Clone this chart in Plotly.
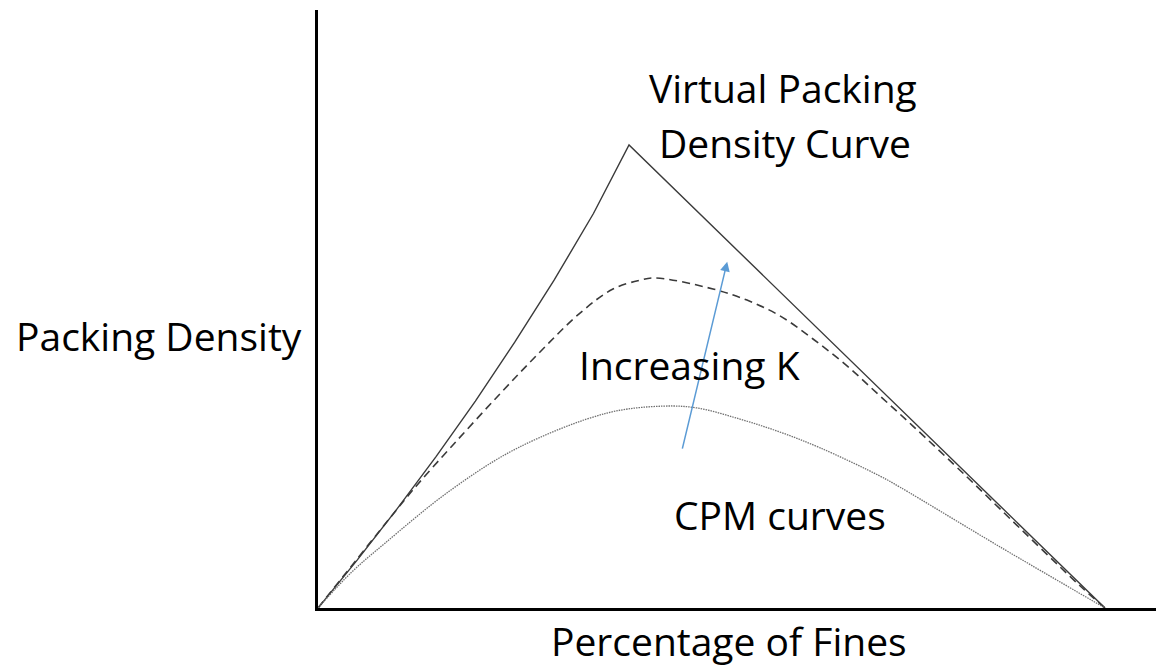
import plotly.graph_objects as go

# percentage of fines (x) and packing density (y), arbitrary units
virtual_x = [0, 5, 10, 15, 20, 25, 30, 35, 39.52, 100]
virtual_y = [0, 0.104, 0.213, 0.327, 0.447, 0.574, 0.708, 0.852, 1.0, 0]

cpm_high_x = [0, 10.17, 12.71, 17.03, 22.87, 28.21, 33.29, 37.48, 40.91, 42.82, 50.19,
              54.51, 58.70, 62.90, 67.22, 71.41, 75.60, 82.47, 86.66, 96.82, 100]
cpm_high_y = [0, 0.216, 0.268, 0.350, 0.458, 0.553, 0.637, 0.689, 0.708, 0.713, 0.689,
              0.665, 0.631, 0.581, 0.523, 0.458, 0.393, 0.283, 0.214, 0.048, 0]

cpm_low_x = [0, 4.19, 8.51, 16.90, 25.41, 36.72, 43.84, 48.16, 53.62, 58.70,
             63.79, 71.41, 73.95, 86.66, 100]
cpm_low_y = [0, 0.076, 0.140, 0.255, 0.346, 0.421, 0.436, 0.432, 0.408, 0.380,
             0.346, 0.285, 0.261, 0.132, 0]

# arrow "Increasing K": tail and head
arrow_x = [46.25, 52.0]
arrow_y = [0.341, 0.748]

# page body has an 8px margin, so the figure is laid out 8px up/left
OFF = 8
W, H = 1152, 663
L, R, T, B = 310, 0, 2, 63
X_MAX = (W - L - R) / 7.87
Y_MAX = (H - T - B) / 463.0

FONT = 'Open Sans'


def px(x, y):
    # screen pixel position -> paper coords
    return (x - OFF - L) / (W - L - R), (H - B - (y - OFF)) / (H - T - B)


fig = go.Figure()

fig.add_trace(go.Scatter(
    x=virtual_x, y=virtual_y, mode='lines',
    line=dict(color='#3a3a3a', width=1.4),
    hoverinfo='skip', showlegend=False
))
fig.add_trace(go.Scatter(
    x=cpm_high_x, y=cpm_high_y, mode='lines',
    line=dict(color='#3a3a3a', width=1.6, dash='8px,5px', shape='spline', smoothing=1),
    hoverinfo='skip', showlegend=False
))
fig.add_trace(go.Scatter(
    x=cpm_low_x, y=cpm_low_y, mode='lines',
    line=dict(color='#707070', width=1.3, dash='1.5px,1px', shape='spline', smoothing=1),
    hoverinfo='skip', showlegend=False
))

fig.add_annotation(
    x=arrow_x[1], y=arrow_y[1], ax=arrow_x[0], ay=arrow_y[0],
    xref='x', yref='y', axref='x', ayref='y',
    showarrow=True, arrowhead=2, arrowsize=1.3, arrowwidth=1.5,
    arrowcolor='#5B9BD5', text=''
)

labels = [
    ('Virtual Packing', 783, 87),
    ('Density Curve', 785, 143),
    ('Increasing K', 689, 364),
    ('CPM curves', 780, 514),
    ('Packing Density', 159, 335),
    ('Percentage of Fines', 729, 640),
]
for text, lx, ly in labels:
    xp, yp = px(lx, ly)
    fig.add_annotation(
        x=xp, y=yp, xref='paper', yref='paper', text=text, showarrow=False,
        xanchor='center', yanchor='middle', borderpad=0,
        font=dict(family=FONT, size=39, color='black')
    )

fig.update_xaxes(range=[0, X_MAX], showline=True, linecolor='black', linewidth=2.5,
                 showgrid=False, zeroline=False, showticklabels=False, ticks='')
fig.update_yaxes(range=[0, Y_MAX], showline=True, linecolor='black', linewidth=2.5,
                 showgrid=False, zeroline=False, showticklabels=False, ticks='')

fig.update_layout(
    width=W, height=H,
    margin=dict(l=L, r=R, t=T, b=B),
    plot_bgcolor='white', paper_bgcolor='white',
    showlegend=False
)

fig.write_html("out.html")
